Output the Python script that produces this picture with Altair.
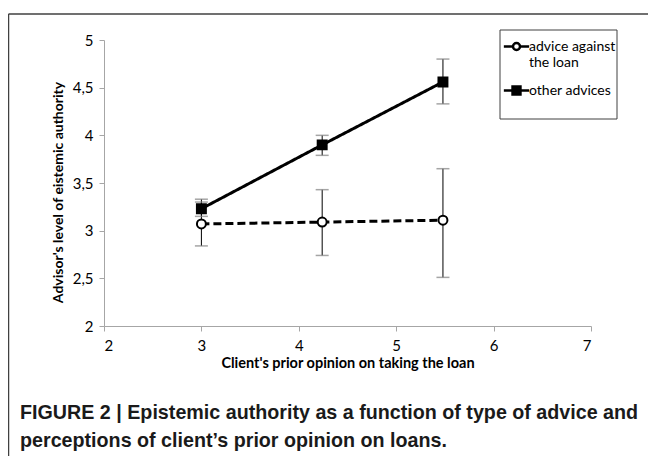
import altair as alt
import pandas as pd

# ---- data ----
x_vals = [3.0, 4.24, 5.48]
series_names = ["advice against the loan", "other advices"]
against_mean = [3.07, 3.09, 3.11]
against_lo = [2.84, 2.74, 2.51]
against_hi = [3.30, 3.43, 3.65]
other_mean = [3.23, 3.90, 4.56]
other_lo = [3.15, 3.79, 4.33]
other_hi = [3.33, 4.00, 4.80]
x_ticks = [2, 3, 4, 5, 6, 7]
y_ticks = [2, 2.5, 3, 3.5, 4, 4.5, 5]
caption_lines = [
    "FIGURE 2 | Epistemic authority as a function of type of advice and",
    "perceptions of client\u2019s prior opinion on loans.",
]

rows = []
for i, xv in enumerate(x_vals):
    rows.append(dict(x=xv, series=series_names[0], y=against_mean[i], lo=against_lo[i], hi=against_hi[i]))
    rows.append(dict(x=xv, series=series_names[1], y=other_mean[i], lo=other_lo[i], hi=other_hi[i]))
df = pd.DataFrame(rows)

FONT = "Lato"
W, H = 487, 286

xscale = alt.Scale(domain=[2, 7], nice=False, zero=False)
yscale = alt.Scale(domain=[2, 5], nice=False, zero=False)
X = alt.X("x:Q", scale=xscale,
          axis=alt.Axis(values=x_ticks, title="Client's prior opinion on taking the loan",
                        titleFontWeight="bold", titleFontSize=14.5, labelFontSize=15,
                        labelPadding=7, titlePadding=3, format="d"))
Y = alt.Y("y:Q", scale=yscale,
          axis=alt.Axis(values=y_ticks, title="Advisor's level of eistemic authority",
                        titleFontWeight="bold", titleFontSize=14, labelFontSize=15,
                        labelPadding=6, titlePadding=7, titleY=152, format="~g",
                        labelExpr="replace(datum.label, '.', ',')"))
Xs = alt.X("x:Q", scale=xscale)

base = alt.Chart(df)

err = base.mark_rule(color="black", strokeWidth=1).encode(
    x=Xs, y=alt.Y("lo:Q", scale=yscale), y2="hi:Q")
cap_lo = base.mark_tick(color="#7f7f7f", thickness=1.5, size=13, orient="horizontal").encode(
    x=Xs, y=alt.Y("lo:Q", scale=yscale))
cap_hi = base.mark_tick(color="#7f7f7f", thickness=1.5, size=13, orient="horizontal").encode(
    x=Xs, y=alt.Y("hi:Q", scale=yscale))

lines = base.mark_line(color="black", strokeWidth=3).encode(
    x=X, y=Y,
    detail="series:N",
    strokeDash=alt.StrokeDash("series:N", scale=alt.Scale(domain=series_names, range=[[8, 4], [1, 0]]),
                              legend=None))

points = base.mark_point(filled=True, size=80, stroke="black", strokeWidth=2, opacity=1).encode(
    x=Xs, y=alt.Y("y:Q", scale=yscale),
    shape=alt.Shape("series:N", scale=alt.Scale(domain=series_names, range=["circle", "square"]), legend=None),
    fill=alt.Fill("series:N", scale=alt.Scale(domain=series_names, range=["white", "black"]), legend=None),
)

circle_path = "M-1.15,0H-0.32M0.32,0H1.15M-0.32,0A0.32,0.32 0 1,0 0.32,0A0.32,0.32 0 1,0 -0.32,0Z"
square_path = "M-1.15,0H1.15M-0.36,-0.36H0.36V0.36H-0.36Z"
leg = alt.Legend(title=None, orient="none", legendX=400, legendY=-6,
                 symbolSize=484, symbolStrokeWidth=2.5, labelFont=FONT, labelFontSize=14,
                 labelOffset=0, padding=0, rowPadding=8, labelLimit=200, labelColor="black",
                 labelExpr="datum.label == 'advice against the loan' ? ['advice against', '\u00a0\u00a0\u00a0\u00a0\u00a0the loan'] : datum.label")
legend_layer = base.transform_filter("datum.x < 0").mark_point(filled=True, strokeWidth=2.5, opacity=1).encode(
    x=Xs, y=alt.Y("y:Q", scale=yscale),
    shape=alt.Shape("series:N", scale=alt.Scale(domain=series_names, range=[circle_path, square_path]), legend=leg),
    fill=alt.Fill("series:N", scale=alt.Scale(domain=series_names, range=["white", "black"]), legend=leg),
    stroke=alt.Stroke("series:N", scale=alt.Scale(domain=series_names, range=["black", "black"]), legend=leg),
)

one = alt.Data(values=[{}])
legend_box = alt.Chart(one).mark_rect(fill=None, stroke="#404040", strokeWidth=1).encode(
    x=alt.value(396), x2=alt.value(513), y=alt.value(-10), y2=alt.value(79))
frame_top = alt.Chart(one).mark_rule(color="#404040", strokeWidth=1.5).encode(
    x=alt.value(-95.5), x2=alt.value(545), y=alt.value(-26))
frame_left = alt.Chart(one).mark_rule(color="#404040", strokeWidth=1.5).encode(
    x=alt.value(-95.5), y=alt.value(-26), y2=alt.value(420))

cap1 = alt.Chart(one).mark_text(align="left", baseline="alphabetic", fontSize=19.7, fontWeight="bold",
                                font="Liberation Sans, Arial, sans-serif", color="#1a1a1a").encode(
    x=alt.value(-84), y=alt.value(379), text=alt.value(caption_lines[0]))
cap2 = alt.Chart(one).mark_text(align="left", baseline="alphabetic", fontSize=19.7, fontWeight="bold",
                                font="Liberation Sans, Arial, sans-serif", color="#1a1a1a").encode(
    x=alt.value(-84), y=alt.value(407), text=alt.value(caption_lines[1]))

chart = alt.layer(
    frame_top, frame_left, legend_box, err, cap_lo, cap_hi, lines, points, legend_layer, cap1, cap2
).resolve_scale(
    shape="independent", fill="independent", stroke="independent", strokeDash="independent"
).properties(
    width=W, height=H,
    background="white",
    autosize=alt.AutoSizeParams(type="none"),
    padding={"left": 96, "top": 32, "right": 57, "bottom": 130},
).configure_view(stroke=None).configure_axis(
    grid=False, domainColor="#a6a6a6", tickColor="#a6a6a6", tickSize=5,
    labelColor="black", titleColor="black", labelFont=FONT, titleFont=FONT,
)

chart.save("out.html", embed_options={"renderer": "svg", "actions": False})
